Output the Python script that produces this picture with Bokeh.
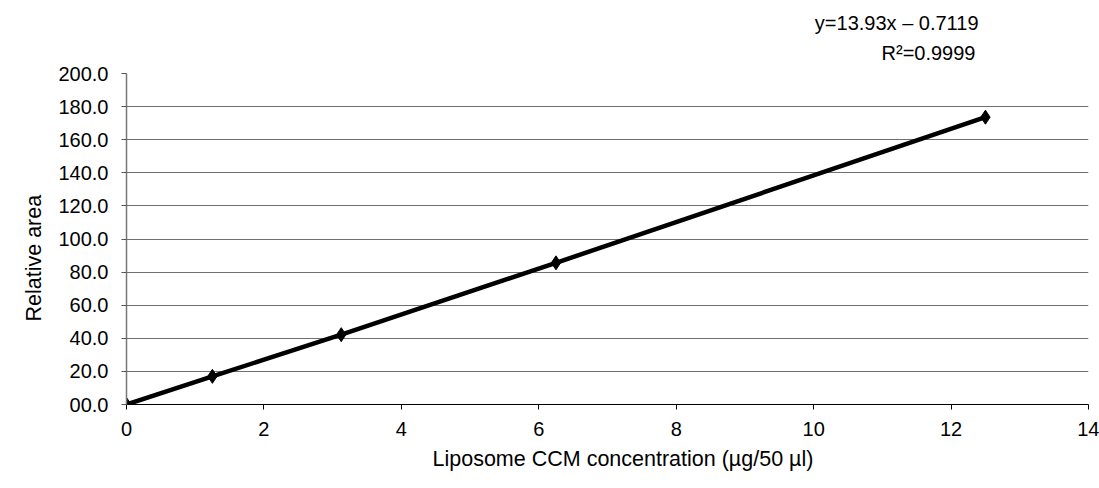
from bokeh.plotting import figure
from bokeh.models import Range1d, Title, FixedTicker
from bokeh.embed import file_html
from bokeh.resources import INLINE

conc = [0, 1.25, 3.125, 6.25, 12.5]
area = [0.0, 17.0, 42.2, 85.6, 173.6]
x_ticks = [0, 2, 4, 6, 8, 10, 12, 14]
y_ticks = [0, 20, 40, 60, 80, 100, 120, 140, 160, 180, 200]
y_tick_labels = ["00.0", "20.0", "40.0", "60.0", "80.0", "100.0", "120.0", "140.0", "160.0", "180.0", "200.0"]
eq_text = "y=13.93x \u2013 0.7119"
r2_text = "R\u00b2=0.9999"
x_title = "Liposome CCM concentration (\u00b5g/50 \u00b5l)"
y_title = "Relative area"

FONT = "Liberation Sans"
FS = "20px"
FS_LAB = "21.5px"

p = figure(width=1099, height=484, output_backend="svg", toolbar_location=None, title=None,
           x_range=Range1d(0, 14), y_range=Range1d(0, 200),
           min_border_left=126, min_border_right=11, min_border_top=72, min_border_bottom=80)
p.outline_line_color = None
p.background_fill_color = "white"

p.xaxis.ticker = FixedTicker(ticks=x_ticks)
p.yaxis.ticker = FixedTicker(ticks=y_ticks)
p.yaxis.major_label_overrides = {t: l for t, l in zip(y_ticks, y_tick_labels)}

for ax in (p.xaxis[0], p.yaxis[0]):
    ax.major_label_text_font = FONT
    ax.major_label_text_font_size = FS
    ax.major_label_text_color = "black"
    ax.minor_tick_line_color = None
    ax.major_tick_in = 0
    ax.major_tick_out = 5

p.xaxis.major_label_standoff = 12
p.xaxis.axis_line_color = "black"
p.xaxis.major_tick_line_color = "black"
p.yaxis.major_label_standoff = 13
p.yaxis.axis_line_color = "#777777"
p.yaxis.axis_line_width = 1.5
p.yaxis.major_tick_line_color = "#555555"

p.xgrid.grid_line_color = None
p.ygrid.grid_line_color = "#707070"
p.ygrid.grid_line_width = 1

p.line(conc, area, line_color="black", line_width=4.5)
p.scatter(conc, area, marker="diamond", size=14, fill_color="black", line_color="black")

# right-align the second line under the first by padding with no-break spaces
p.add_layout(Title(text=eq_text + "\n" + "\u00a0" * 12 + r2_text, align="right", offset=110, standoff=18,
                   text_font=FONT, text_font_size=FS, text_font_style="normal",
                   text_line_height=1.4, text_color="black"), "above")
p.add_layout(Title(text=x_title, align="left", offset=306, standoff=12,
                   text_font=FONT, text_font_size=FS_LAB, text_font_style="normal",
                   text_color="black"), "below")
p.add_layout(Title(text=y_title, align="left", offset=83, standoff=20,
                   text_font=FONT, text_font_size=FS_LAB, text_font_style="normal",
                   text_color="black"), "left")

open("out.html", "w").write(file_html(p, INLINE))
